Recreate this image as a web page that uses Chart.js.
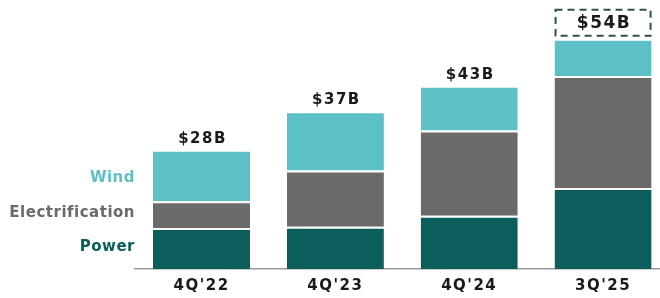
<!DOCTYPE html>
<html>
<head>
<meta charset="utf-8">
<script src="https://cdn.jsdelivr.net/npm/chart.js@4"></script>
<style>
  html, body { margin: 0; padding: 0; background: #fff; overflow: hidden; }
  #wrap { width: 670px; height: 298px; }
</style>
</head>
<body>
<div id="wrap"><canvas id="chart" width="670" height="298"></canvas></div>
<script>
/* ---------- DATA ---------- */
const quarters = ["4Q'22", "4Q'23", "4Q'24", "3Q'25"];
const power = [9.6, 9.9, 12.5, 19.0];
const electrification = [6.3, 13.2, 20.0, 26.3];
const wind = [12.1, 13.9, 10.5, 8.7];
const totalLabels = ['$28B', '$37B', '$43B', '$54B'];

const FONT = '"DejaVu Sans", sans-serif';
const $ = id => document.getElementById(id);

/* ---------- PLUGINS ---------- */
// wider spacing for the quarter labels
const tickSpacing = {
  id: 'tickSpacing',
  beforeDraw(chart) { chart.ctx.letterSpacing = '1.5px'; },
  beforeDatasetsDraw(chart) { chart.ctx.letterSpacing = '0px'; }
};

// totals above bars, last one in a dashed box
const totalsPlugin = {
  id: 'totals',
  afterDatasetsDraw(chart) {
    const ctx = chart.ctx;
    const top = chart.getDatasetMeta(2).data;
    ctx.save();
    ctx.fillStyle = '#1a1a1a';
    ctx.textAlign = 'center';
    ctx.textBaseline = 'middle';
    ctx.letterSpacing = '1.5px';
    top.forEach((bar, i) => {
      const last = i === top.length - 1;
      if (last) {
        const left = bar.x - bar.width / 2, right = bar.x + bar.width / 2;
        ctx.strokeStyle = '#2f4f4f';
        ctx.lineWidth = 2;
        ctx.setLineDash([7, 5]);
        ctx.strokeRect(left + 1, bar.y - 29, right - left - 2, 26);
        ctx.setLineDash([]);
        ctx.font = 'bold 17px ' + FONT;
        ctx.fillText(totalLabels[i], bar.x + 1, bar.y - 15.5);
      } else {
        ctx.font = 'bold 15px ' + FONT;
        ctx.fillText(totalLabels[i], bar.x + 1, bar.y - 11);
      }
    });
    ctx.restore();
  }
};

// series names to the left of the first bar
const sideLabels = {
  id: 'sideLabels',
  afterDatasetsDraw(chart) {
    const ctx = chart.ctx;
    ctx.save();
    ctx.textAlign = 'right';
    ctx.textBaseline = 'middle';
    ctx.font = 'bold 15px ' + FONT;
    ctx.letterSpacing = '0.5px';
    chart.data.datasets.forEach((ds, i) => {
      const bar = chart.getDatasetMeta(i).data[0];
      const mid = (bar.y + bar.base) / 2 + ds.labelShift;
      ctx.fillStyle = ds.labelColor;
      ctx.fillText(ds.label, bar.x - bar.width / 2 - 18, mid);
    });
    ctx.restore();
  }
};

/* ---------- CHART ---------- */
new Chart($('chart').getContext('2d'), {
  type: 'bar',
  data: {
    labels: quarters,
    datasets: [
      { label: 'Power', data: power, backgroundColor: '#0b5e5c', labelColor: '#0b5e5c', labelShift: -1 },
      { label: 'Electrification', data: electrification, backgroundColor: '#6a6a6a', labelColor: '#6a6a6a', labelShift: -2 },
      { label: 'Wind', data: wind, backgroundColor: '#5cc0c6', labelColor: '#5cc0c6', labelShift: 3 }
    ].map(ds => Object.assign(ds, {
      borderColor: '#ffffff',
      borderWidth: { top: 2, left: 0, right: 0, bottom: 0 },
      borderSkipped: false,
      categoryPercentage: 1,
      barPercentage: 0.725
    }))
  },
  options: {
    responsive: false,
    animation: false,
    layout: { padding: { left: 134.6, right: 0, top: 0, bottom: 0 } },
    plugins: { legend: { display: false }, tooltip: { enabled: false } },
    scales: {
      x: {
        stacked: true,
        grid: { display: false },
        border: { display: true, color: '#999', width: 1.5 },
        afterFit(scale) { scale.height = 29; },
        ticks: { color: '#1a1a1a', padding: 0, font: { family: FONT, size: 15, weight: 'bold' } }
      },
      y: {
        stacked: true,
        display: false,
        min: 0,
        max: 63.1
      }
    }
  },
  plugins: [tickSpacing, totalsPlugin, sideLabels]
});
</script>
</body>
</html>
